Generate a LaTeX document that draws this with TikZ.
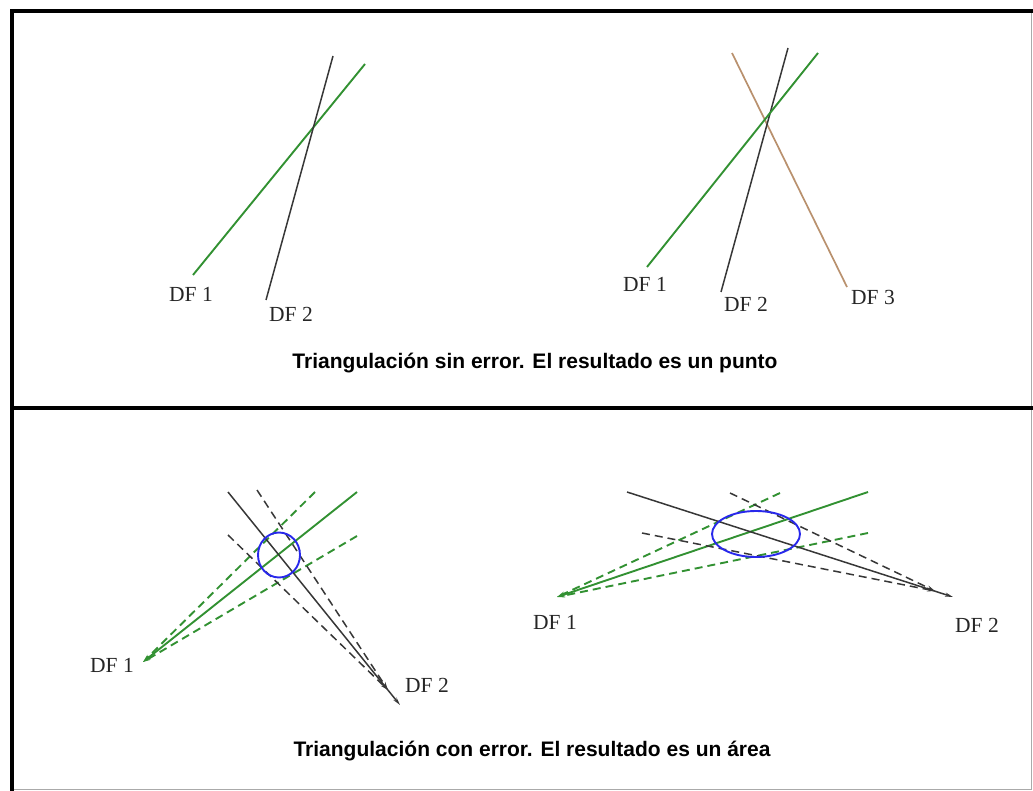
\documentclass[tikz,border=0pt]{standalone}
\usepackage{fontspec}
\setmainfont{Liberation Serif}
\newfontfamily\capfont{Liberation Sans}
\usetikzlibrary{arrows.meta,shapes.geometric}
\definecolor{dfgreen}{RGB}{50,145,50}
\definecolor{dfgray}{RGB}{55,55,55}
\definecolor{dfbrown}{RGB}{185,145,110}
\definecolor{dfblue}{RGB}{40,40,235}
\definecolor{framegray}{RGB}{170,170,170}
\tikzset{
  framethick/.style={line width=4.5pt, black},
  framethin/.style={line width=1.2pt, framegray},
  greenln/.style={dfgreen, line width=1.9pt},
  grayln/.style={dfgray, line width=1.5pt},
  brownln/.style={dfbrown, line width=1.7pt},
  dashln/.style={dash pattern=on 8pt off 5pt},
  tipend/.style={-{Stealth[length=8pt,width=4pt]}},
  lbl/.style={font=\fontsize{21.5}{21.5}\selectfont, inner sep=0pt, text=black!85},
  captxt/.style={font=\capfont\bfseries\fontsize{21}{21}\selectfont, inner sep=0pt, anchor=base},
  area/.style={draw=dfblue, line width=1.9pt, ellipse, inner sep=0pt}
}
\begin{document}
\begin{tikzpicture}[x=1pt,y=-1pt]
\useasboundingbox (0,0) rectangle (1033,791);
% frame
\draw[framethin] (1031.5,11) -- (1031.5,789.5) -- (12,789.5);
\draw[framethick] (12,791) -- (12,11) -- (1033,11);
\draw[framethick] (12,408) -- (1033,408);

% ---------- top left ----------
\coordinate (a1) at (193,275); \coordinate (a1e) at (365,64);
\coordinate (a2) at (266,300); \coordinate (a2e) at (333,56);
\draw[greenln] (a1) -- (a1e);
\draw[grayln] (a2) -- (a2e);
\node[lbl] (la1) at (191,294) {DF 1};
\node[lbl] (la2) at (291,314) {DF 2};

% ---------- top right ----------
\coordinate (b1) at (647,267); \coordinate (b1e) at (818,53);
\coordinate (b2) at (721,292); \coordinate (b2e) at (788,48);
\coordinate (b3) at (847,287); \coordinate (b3e) at (732,53);
\draw[brownln] (b3) -- (b3e);
\draw[grayln] (b2) -- (b2e);
\draw[greenln] (b1) -- (b1e);
\node[lbl] (lb1) at (645,284) {DF 1};
\node[lbl] (lb2) at (746,304) {DF 2};
\node[lbl] (lb3) at (873,297) {DF 3};

\node[captxt] (cap1) at (535,369) {Triangulación sin error. El resultado es un punto};

% ---------- bottom left ----------
\coordinate (c1) at (143,662);
\coordinate (c1s) at (357,492); \coordinate (c1u) at (315,492); \coordinate (c1l) at (357,536);
\coordinate (c2) at (400,705); \coordinate (c2d) at (388,690);
\coordinate (c2s) at (228,492); \coordinate (c2u) at (257,490); \coordinate (c2l) at (228,535);
\draw[greenln, tipend] (c1s) -- (c1);
\draw[greenln, dashln, tipend] (c1u) -- (c1);
\draw[greenln, dashln, tipend] (c1l) -- (c1);
\draw[grayln, tipend] (c2s) -- (c2);
\draw[grayln, dashln, tipend] (c2u) -- (c2d);
\draw[grayln, dashln, tipend] (c2l) -- (c2d);
\node[area, minimum width=42pt, minimum height=45pt] (errc) at (279,555) {};
\node[lbl] (lc1) at (112,665) {DF 1};
\node[lbl] (lc2) at (427,685) {DF 2};

% ---------- bottom right ----------
\coordinate (d1) at (557,597);
\coordinate (d1s) at (868,492); \coordinate (d1u) at (780,493); \coordinate (d1l) at (868,533);
\coordinate (d2) at (953,597); \coordinate (d2d) at (935,591);
\coordinate (d2s) at (627,492); \coordinate (d2u) at (730,493); \coordinate (d2l) at (642,533);
\draw[greenln, tipend] (d1s) -- (d1);
\draw[greenln, dashln, tipend] (d1u) -- (d1);
\draw[greenln, dashln, tipend] (d1l) -- (d1);
\draw[grayln, tipend] (d2s) -- (d2);
\draw[grayln, dashln, tipend] (d2u) -- (d2d);
\draw[grayln, dashln, tipend] (d2l) -- (d2d);
\node[area, minimum width=88pt, minimum height=46pt] (errd) at (756,534) {};
\node[lbl] (ld1) at (555,622) {DF 1};
\node[lbl] (ld2) at (977,625) {DF 2};

\node[captxt] (cap2) at (532,756) {Triangulación con error. El resultado es un área};
\end{tikzpicture}
\end{document}
